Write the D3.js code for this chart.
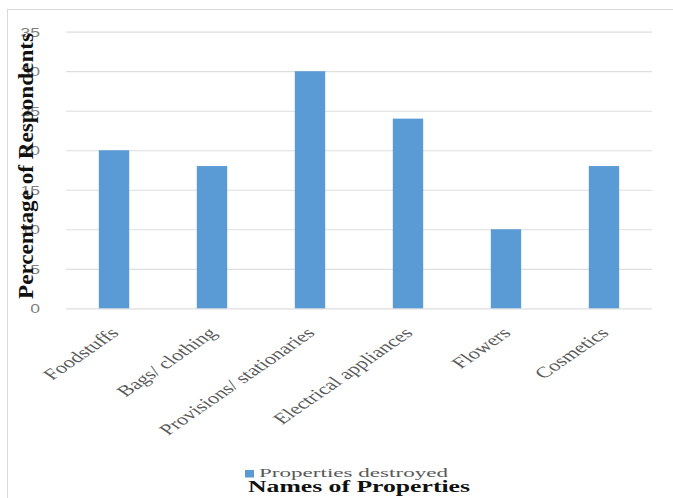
<!DOCTYPE html>
<html>
<head>
<meta charset="utf-8">
<script src="https://cdn.jsdelivr.net/npm/d3@7"></script>
<style>
  html, body { margin: 0; padding: 0; background: #ffffff; }
  svg { display: block; }
</style>
</head>
<body>
<div id="chart"></div>
<script>
const categories = ["Foodstuffs", "Bags/ clothing", "Provisions/ stationaries", "Electrical appliances", "Flowers", "Cosmetics"];
const values = [20, 18, 30, 24, 10, 18];
const yTicks = [0, 5, 10, 15, 20, 25, 30, 35];
const seriesName = "Properties destroyed";
const xTitle = "Names of Properties";
const yTitle = "Percentage of Respondents";

const W = 673, H = 498;
const svg = d3.select("#chart").append("svg").attr("width", W).attr("height", H);

// outer chart border
svg.append("rect").attr("x", 7.5).attr("y", 9.5).attr("width", 700).attr("height", 520)
  .attr("fill", "none").attr("stroke", "#d9d9d9").attr("stroke-width", 1);

const x = d3.scaleBand().domain(categories).range([66, 652]).paddingInner(0.69).paddingOuter(0.335);
const y = d3.scaleLinear().domain([0, 35]).range([308.3, 31.7]);

// gridlines
const yAxis = d3.axisLeft(y).tickValues(yTicks).tickSize(-(652 - 66)).tickFormat("");
const gy = svg.append("g").attr("transform", "translate(66,0)").call(yAxis);
gy.select(".domain").remove();
gy.selectAll(".tick line").attr("stroke", "#dedede").attr("stroke-width", 1.2);

// y tick labels (stretched look)
svg.append("g").selectAll("text").data(yTicks).join("text")
  .attr("transform", d => `translate(40,${y(d)}) scale(1.3,1)`)
  .attr("dy", "0.36em")
  .attr("text-anchor", "end")
  .attr("font-family", "Liberation Sans, Arial, sans-serif")
  .attr("font-size", 13.5)
  .attr("fill", "#7f7f7f")
  .text(d => d);

// bars
svg.append("g").selectAll("rect").data(categories).join("rect")
  .attr("x", d => x(d))
  .attr("width", x.bandwidth())
  .attr("y", (d, i) => y(values[i]))
  .attr("height", (d, i) => y(0) - y(values[i]))
  .attr("fill", "#5b9bd5");

// x tick labels
svg.append("g").selectAll("text").data(categories).join("text")
  .attr("transform", d => `translate(${x(d) + x.bandwidth() / 2 + 6},334) scale(1.45,1) rotate(-45)`)
  .attr("text-anchor", "end")
  .attr("font-family", "Liberation Serif, Times New Roman, serif")
  .attr("font-size", 15.5)
  .attr("fill", "#595959")
  .text(d => d);

// legend
svg.append("rect").attr("x", 245).attr("y", 470).attr("width", 9).attr("height", 7.5).attr("fill", "#5b9bd5");
svg.append("text")
  .attr("x", 259).attr("y", 477)
  .attr("font-family", "Liberation Serif, Times New Roman, serif")
  .attr("font-size", 13.5)
  .attr("fill", "#595959")
  .attr("textLength", 189).attr("lengthAdjust", "spacingAndGlyphs")
  .text(seriesName);

// x title
svg.append("text")
  .attr("x", 248).attr("y", 492)
  .attr("font-family", "Liberation Serif, Times New Roman, serif")
  .attr("font-size", 17)
  .attr("font-weight", "bold")
  .attr("fill", "#111")
  .attr("textLength", 222).attr("lengthAdjust", "spacingAndGlyphs")
  .text(xTitle);

// y title
svg.append("text")
  .attr("transform", "translate(33,166) rotate(-90)")
  .attr("text-anchor", "middle")
  .attr("font-family", "Liberation Serif, Times New Roman, serif")
  .attr("font-size", 22)
  .attr("font-weight", "bold")
  .attr("fill", "#111")
  .attr("textLength", 266).attr("lengthAdjust", "spacingAndGlyphs")
  .text(yTitle);
</script>
</body>
</html>
